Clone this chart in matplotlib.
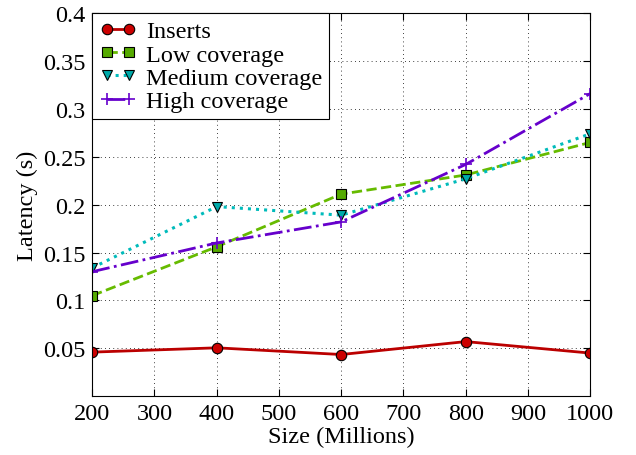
import matplotlib
matplotlib.use("Agg")
import matplotlib.pyplot as plt

sizes = [200, 400, 600, 800, 1000]
inserts = [0.046, 0.0505, 0.0435, 0.057, 0.045]
low_cov = [0.105, 0.156, 0.211, 0.231, 0.265]
med_cov = [0.134, 0.198, 0.189, 0.227, 0.274]
high_cov = [0.130, 0.160, 0.182, 0.242, 0.316]

plt.rcParams["font.family"] = ["Liberation Serif", "DejaVu Serif"]

FS = 17.5

fig = plt.figure(figsize=(6.36, 4.56), dpi=100)
ax = fig.add_axes([0.145, 0.129, 0.783, 0.840])

ax.plot(sizes, inserts, "-", color="#BB0000", lw=2, marker="o", ms=7.5,
        mfc="#CC0000", mec="black", mew=0.8, label="Inserts")
ax.plot(sizes, low_cov, "--", color="#66BB00", lw=2, marker="s", ms=7.5,
        mfc="#55AA00", mec="black", mew=0.8, label="Low coverage")
ax.plot(sizes, med_cov, ":", color="#00BBBB", lw=2.2, marker="v", ms=7.5,
        mfc="#00AAAA", mec="black", mew=0.8, label="Medium coverage")
ax.plot(sizes, high_cov, "-.", color="#6600CC", lw=2, marker="+", ms=9,
        mew=1.2, label="High coverage")

ax.set_xlim(200, 1000)
ax.set_ylim(0, 0.4)
ax.set_xticks(range(200, 1001, 100))
ax.set_yticks([0.05, 0.1, 0.15, 0.2, 0.25, 0.3, 0.35, 0.4])
ax.set_yticklabels(["0.05", "0.1", "0.15", "0.2", "0.25", "0.3", "0.35", "0.4"])
ax.tick_params(direction="in", labelsize=FS, top=True, right=True,
               length=5, pad=5)
ax.grid(True, color="black", linestyle=(0, (1, 4)), lw=0.6)
ax.set_xlabel("Size (Millions)", fontsize=FS, labelpad=1)
ax.set_ylabel("Latency (s)", fontsize=FS, labelpad=3)

leg = ax.legend(loc="upper left", numpoints=2, fontsize=FS, fancybox=False,
                framealpha=1, edgecolor="black", borderaxespad=0,
                handlelength=1.5, handletextpad=0.4, labelspacing=0.05,
                borderpad=0.3)
leg.get_frame().set_linewidth(0.8)

fig.savefig("out.png", dpi=100)
